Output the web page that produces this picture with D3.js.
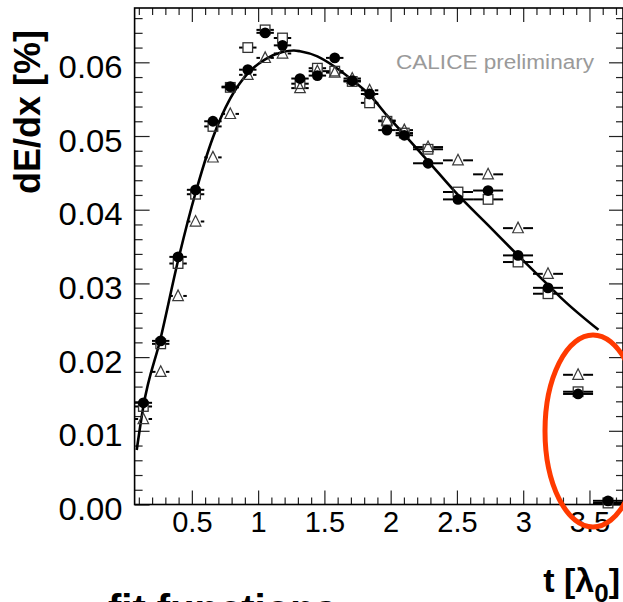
<!DOCTYPE html>
<html>
<head>
<meta charset="utf-8">
<script src="https://cdn.jsdelivr.net/npm/d3@7"></script>
<style>
  html, body { margin: 0; padding: 0; background: #ffffff; }
  svg { display: block; }
  text { font-family: "Liberation Sans", Arial, Helvetica, sans-serif; }
</style>
</head>
<body>
<svg id="chart" width="623" height="602"></svg>
<script>
// Longitudinal shower profile: energy fraction per depth bin, three samples + fit
const binCenters = [0.134, 0.265, 0.396, 0.528, 0.659, 0.790, 0.922, 1.053, 1.184, 1.316, 1.447, 1.578,
                    1.710, 1.841, 1.972, 2.103, 2.282, 2.508, 2.735, 2.961, 3.187, 3.414, 3.640];
const binHalfWidths = [0.0657, 0.0657, 0.0657, 0.0657, 0.0657, 0.0657, 0.0657, 0.0657, 0.0657, 0.0657, 0.0657, 0.0657,
                       0.0657, 0.0657, 0.0657, 0.0657, 0.1132, 0.1132, 0.1132, 0.1132, 0.1132, 0.1132, 0.1132];

const circleValues = [0.0138, 0.0222, 0.0336, 0.0427, 0.0520, 0.0567, 0.0590, 0.0640, 0.0623, 0.0578, 0.0582, 0.0606,
                      0.0575, 0.0557, 0.0508, 0.0501, 0.0463, 0.0414, 0.0426, 0.0338, 0.0294, 0.0150, 0.0005];
const squareValues = [0.0133, 0.0218, 0.0327, 0.0421, 0.0513, 0.0566, 0.0620, 0.0644, 0.0633, 0.0571, 0.0592, 0.0588,
                      0.0574, 0.0545, 0.0520, 0.0504, 0.0482, 0.0424, 0.0414, 0.0329, 0.0286, 0.0153, 0.0002];
const triangleValues = [0.0116, 0.0180, 0.0283, 0.0384, 0.0471, 0.0530, 0.0583, 0.0606, 0.0612, 0.0565, 0.0588, 0.0586,
                        0.0578, 0.0562, 0.0521, 0.0508, 0.0485, 0.0467, 0.0448, 0.0375, 0.0313, 0.0176, null];

// Fit function sampled along depth
const fitDepth = [0.084, 0.134, 0.265, 0.396, 0.528, 0.659, 0.790, 0.922, 1.053, 1.184, 1.270, 1.316, 1.447,
                  1.578, 1.710, 1.841, 1.972, 2.103, 2.282, 2.508, 2.735, 2.961, 3.187, 3.300, 3.568];
const fitValues = [0.0074, 0.0133, 0.0226, 0.0331, 0.0423, 0.0498, 0.0551, 0.0585, 0.0604, 0.0614, 0.0616, 0.0615, 0.0608,
                   0.0594, 0.0576, 0.0556, 0.0528, 0.0502, 0.0466, 0.0420, 0.0379, 0.0338, 0.0298, 0.0278, 0.0237];

const xTickValues = [0.5, 1, 1.5, 2, 2.5, 3, 3.5];
const xTickLabels = ["0.5", "1", "1.5", "2", "2.5", "3", "3.5"];
const yTickValues = [0, 0.01, 0.02, 0.03, 0.04, 0.05, 0.06];
const yTickLabels = ["0.00", "0.01", "0.02", "0.03", "0.04", "0.05", "0.06"];

const svg = d3.select("#chart");
const plotLeft = 134.6, plotRight = 623, plotTop = 8, plotBottom = 504.5;

const x = d3.scaleLinear().domain([0.068, 3.753]).range([plotLeft, plotRight]);
const y = d3.scaleLinear().domain([0, 0.06737]).range([plotBottom, plotTop]);

const xMinor = d3.range(1, 38).map(i => i / 10).filter(v => !xTickValues.some(m => Math.abs(m - v) < 1e-6));
const yMinor = d3.range(1, 34).map(i => i / 500).filter(v => !yTickValues.some(m => Math.abs(m - v) < 1e-9));

const tickColor = "#222";

function styleAxis(g) {
  g.select(".domain").remove();
  g.selectAll("line").attr("stroke", tickColor).attr("stroke-width", 1.2);
}

// bottom axis: major ticks with labels
const xAxisG = svg.append("g").attr("transform", `translate(0,${plotBottom})`)
  .call(d3.axisBottom(x).tickValues(xTickValues).tickSize(-14).tickPadding(7)
    .tickFormat((d, i) => xTickLabels[i]));
styleAxis(xAxisG);
xAxisG.selectAll("text").attr("font-size", 29).attr("fill", "#000")
  .attr("font-family", "'Liberation Sans', Arial, sans-serif");
svg.append("g").attr("transform", `translate(0,${plotBottom})`)
  .call(d3.axisBottom(x).tickValues(xMinor).tickSize(-7).tickFormat(""))
  .call(styleAxis);

// top axis ticks
svg.append("g").attr("transform", `translate(0,${plotTop})`)
  .call(d3.axisTop(x).tickValues(xTickValues).tickSize(-14).tickFormat(""))
  .call(styleAxis);
svg.append("g").attr("transform", `translate(0,${plotTop})`)
  .call(d3.axisTop(x).tickValues(xMinor).tickSize(-7).tickFormat(""))
  .call(styleAxis);

// left axis
const yAxisG = svg.append("g").attr("transform", `translate(${plotLeft},0)`)
  .call(d3.axisLeft(y).tickValues(yTickValues).tickSize(-15).tickPadding(12)
    .tickFormat((d, i) => yTickLabels[i]));
styleAxis(yAxisG);
yAxisG.selectAll("text").attr("font-size", 32).attr("fill", "#000").attr("dy", "0.47em")
  .attr("textLength", 64).attr("lengthAdjust", "spacingAndGlyphs")
  .attr("font-family", "'Liberation Sans', Arial, sans-serif");
svg.append("g").attr("transform", `translate(${plotLeft},0)`)
  .call(d3.axisLeft(y).tickValues(yMinor).tickSize(-8).tickFormat(""))
  .call(styleAxis);

// right axis ticks
svg.append("g").attr("transform", `translate(${plotRight},0)`)
  .call(d3.axisRight(y).tickValues(yTickValues).tickSize(-14).tickFormat(""))
  .call(styleAxis);
svg.append("g").attr("transform", `translate(${plotRight},0)`)
  .call(d3.axisRight(y).tickValues(yMinor).tickSize(-7).tickFormat(""))
  .call(styleAxis);

// frame
svg.append("rect")
  .attr("x", plotLeft).attr("y", plotTop)
  .attr("width", plotRight - plotLeft).attr("height", plotBottom - plotTop)
  .attr("fill", "none").attr("stroke", "#000").attr("stroke-width", 1.6);

// fit curve
const fitPts = fitDepth.map((t, i) => [t, fitValues[i]]);
svg.append("path")
  .datum(fitPts)
  .attr("fill", "none")
  .attr("stroke", "#000")
  .attr("stroke-width", 2.6)
  .attr("d", d3.line().x(d => x(d[0])).y(d => y(d[1])).curve(d3.curveMonotoneX));

// series with horizontal bin-width bars and a gap around the marker
function drawSeries(values, gap, drawMarker) {
  const pts = binCenters.map((t, i) => ({ t, hw: binHalfWidths[i], v: values[i] }))
    .filter(d => d.v !== null);
  const g = svg.append("g");
  pts.forEach(d => {
    const cx = x(d.t), cy = y(d.v);
    const x0 = x(d.t - d.hw), x1 = x(d.t + d.hw);
    if (cx - gap > x0) {
      g.append("line").attr("x1", x0).attr("x2", cx - gap).attr("y1", cy).attr("y2", cy)
        .attr("stroke", "#000").attr("stroke-width", 2);
    }
    if (cx + gap < x1) {
      g.append("line").attr("x1", cx + gap).attr("x2", x1).attr("y1", cy).attr("y2", cy)
        .attr("stroke", "#000").attr("stroke-width", 2);
    }
    drawMarker(g, cx, cy);
  });
}

drawSeries(triangleValues, 5.2, (g, cx, cy) => {
  g.append("path")
    .attr("d", `M${cx},${cy - 6} L${cx + 5.3},${cy + 4.6} L${cx - 5.3},${cy + 4.6} Z`)
    .attr("fill", "none").attr("stroke", "#3a3a3a").attr("stroke-width", 1.2);
});
drawSeries(squareValues, 5, (g, cx, cy) => {
  g.append("rect").attr("x", cx - 4.8).attr("y", cy - 4.8).attr("width", 9.6).attr("height", 9.6)
    .attr("fill", "none").attr("stroke", "#333").attr("stroke-width", 1.3);
});
drawSeries(circleValues, 5, (g, cx, cy) => {
  g.append("circle").attr("cx", cx).attr("cy", cy).attr("r", 5.4).attr("fill", "#000");
});

// labels
svg.append("text")
  .attr("x", 396).attr("y", 69)
  .attr("font-size", 20).attr("fill", "#9a9a9a")
  .attr("textLength", 198).attr("lengthAdjust", "spacingAndGlyphs")
  .text("CALICE preliminary");

svg.append("text")
  .attr("transform", "translate(40,112) rotate(-90)")
  .attr("text-anchor", "middle")
  .attr("font-size", 36).attr("font-weight", "bold").attr("fill", "#000")
  .text("dE/dx [%]");

const xTitle = svg.append("text")
  .attr("x", 620).attr("y", 592)
  .attr("text-anchor", "end")
  .attr("font-size", 34).attr("font-weight", "bold").attr("fill", "#000");
xTitle.append("tspan").text("t [λ");
xTitle.append("tspan").attr("font-size", 26).attr("dy", 10).text("0");
xTitle.append("tspan").attr("dy", -10).text("]");

svg.append("text")
  .attr("x", 108).attr("y", 623)
  .attr("font-size", 40).attr("font-weight", "bold").attr("fill", "#000")
  .text("fit functions");

// highlight of the last depth bins
svg.append("ellipse")
  .attr("cx", 593).attr("cy", 431).attr("rx", 48).attr("ry", 96)
  .attr("fill", "none").attr("stroke", "#ff3a00").attr("stroke-width", 5);
</script>
</body>
</html>
